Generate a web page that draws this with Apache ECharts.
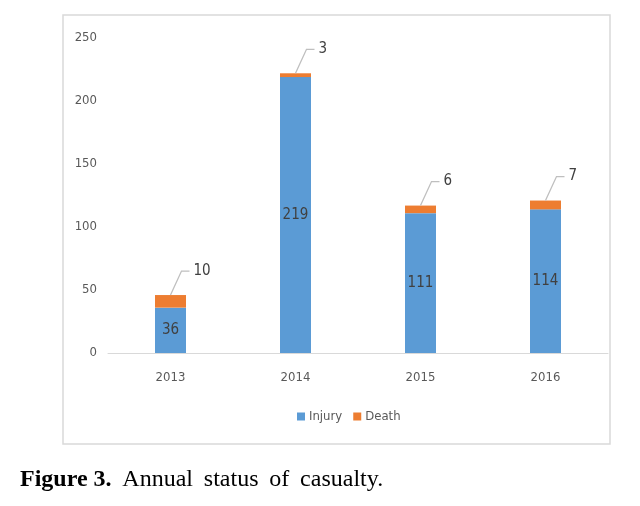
<!DOCTYPE html>
<html>
<head>
<meta charset="utf-8">
<script src="https://cdn.jsdelivr.net/npm/echarts@6/dist/echarts.min.js"></script>
<style>
html,body{margin:0;padding:0;background:#fff;}
#main{width:640px;height:506px;}
</style>
</head>
<body>
<div id="main"></div>
<script>
const categories = ['2013', '2014', '2015', '2016'];
const injury = [36, 219, 111, 114];
const death = [10, 3, 6, 7];
const yTicks = [0, 50, 100, 150, 200, 250];

const FONT = "'Liberation Sans Narrow', 'DejaVu Sans Condensed', sans-serif";
const SERIF = "'Liberation Serif', 'DejaVu Serif', serif";

const deathLabelData = categories.map((c, i) => [i, injury[i] + death[i], death[i]]);

const chart = echarts.init(document.getElementById('main'), null, {renderer: 'canvas'});
chart.setOption({
  animation: false,
  backgroundColor: '#fff',
  title: {
    left: 20,
    top: 468,
    padding: 0,
    text: '{b|Figure 3.} \u2009Annual \u2009status \u2009of \u2009casualty.',
    textStyle: {
      fontFamily: SERIF,
      fontSize: 24,
      fontWeight: 'normal',
      color: '#000',
      rich: {
        b: {fontFamily: SERIF, fontSize: 24, fontWeight: 'bold', color: '#000'}
      }
    }
  },
  graphic: [{
    type: 'rect',
    shape: {x: 63, y: 15, width: 547, height: 429},
    style: {fill: null, stroke: '#d9d9d9', lineWidth: 1.5},
    silent: true
  }],
  legend: {
    data: ['Injury', 'Death'],
    left: 292,
    top: 405,
    itemWidth: 8,
    itemHeight: 8,
    itemGap: 11,
    icon: 'rect',
    textStyle: {fontFamily: FONT, fontSize: 13, color: '#595959', padding: [0, 0, 0, -1]}
  },
  grid: {left: 108, right: 32, top: 38, bottom: 153, containLabel: false},
  xAxis: {
    type: 'category',
    data: categories,
    axisLine: {show: true, lineStyle: {color: '#d9d9d9', width: 1}},
    axisTick: {show: false},
    axisLabel: {fontFamily: FONT, fontSize: 13, color: '#595959', margin: 18}
  },
  yAxis: {
    type: 'value',
    min: yTicks[0],
    max: yTicks[yTicks.length - 1],
    interval: 50,
    axisLine: {show: false},
    axisTick: {show: false},
    splitLine: {show: false},
    axisLabel: {fontFamily: FONT, fontSize: 13, color: '#595959', margin: 11}
  },
  series: [
    {
      name: 'Injury',
      type: 'bar',
      stack: 'total',
      barWidth: 31,
      data: injury,
      itemStyle: {color: '#5B9BD5'},
      label: {show: true, position: 'inside', fontFamily: FONT, fontSize: 15, color: '#404040'}
    },
    {
      name: 'Death',
      type: 'bar',
      stack: 'total',
      barWidth: 31,
      data: death,
      itemStyle: {color: '#ED7D31'}
    },
    {
      name: 'DeathLabel',
      type: 'custom',
      data: deathLabelData,
      silent: true,
      z: 5,
      renderItem: function (params, api) {
        const p = api.coord([api.value(0), api.value(1)]);
        const x0 = p[0], y0 = p[1];
        return {
          type: 'group',
          children: [
            {
              type: 'polyline',
              shape: {points: [[x0, y0], [x0 + 11, y0 - 24], [x0 + 19, y0 - 24]]},
              style: {stroke: '#bfbfbf', lineWidth: 1.3, fill: null}
            },
            {
              type: 'text',
              x: x0 + 23,
              y: y0 - 24,
              style: {
                text: String(api.value(2)),
                fontFamily: FONT,
                fontSize: 15,
                fill: '#404040',
                verticalAlign: 'middle',
                align: 'left'
              }
            }
          ]
        };
      }
    }
  ]
});
</script>
</body>
</html>
